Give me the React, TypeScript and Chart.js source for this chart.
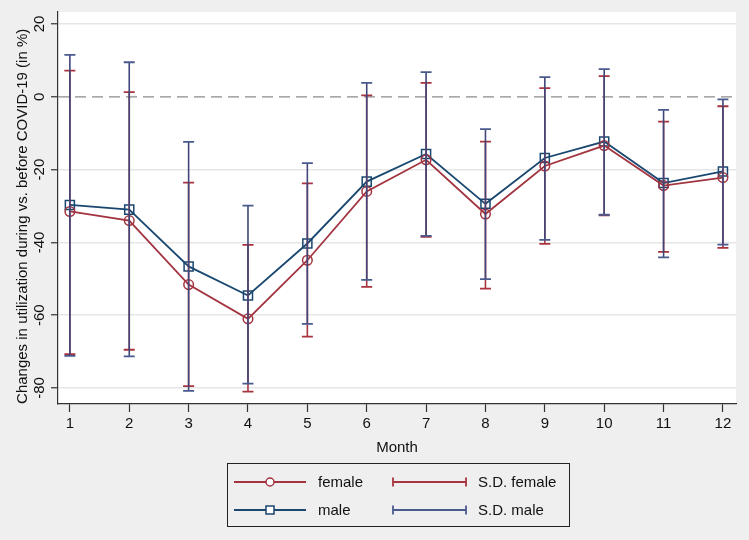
import React, { useEffect, useRef } from "react";
import { Chart, registerables } from "chart.js";

Chart.register(...registerables);

const months = [1, 2, 3, 4, 5, 6, 7, 8, 9, 10, 11, 12];
const female = [-31.5, -34.0, -51.6, -61.0, -44.9, -26.0, -17.3, -32.2, -19.0, -13.4, -24.4, -22.2];
const male = [-29.7, -31.0, -46.6, -54.6, -40.3, -23.3, -15.7, -29.4, -16.8, -12.3, -23.7, -20.5];
const femaleUpper = [7.2, 1.3, -23.6, -40.7, -23.8, 0.4, 3.8, -12.3, 2.4, 5.7, -6.8, -2.6];
const femaleLower = [-70.7, -69.5, -79.5, -81.0, -65.9, -52.2, -38.5, -52.7, -40.4, -32.6, -42.6, -41.5];
const maleUpper = [11.5, 9.5, -12.4, -29.9, -18.2, 3.8, 6.8, -8.9, 5.4, 7.6, -3.6, -0.7];
const maleLower = [-71.2, -71.3, -80.8, -78.8, -62.4, -50.3, -38.2, -50.1, -39.3, -32.4, -44.1, -40.6];
const yTicks = [-80, -60, -40, -20, 0, 20];
const legendLabels = ["female", "S.D. female", "male", "S.D. male"];

const FEMALE = "#a23440";
const MALE = "#1a476f";
const SD_FEMALE = "#a8343f";
const SD_MALE = "#4a5a8e";
const SD_MALE_V = "#3f4679";
const FONT = "'Liberation Sans', Arial, Helvetica, sans-serif";

const bgPlugin = {
  id: "bg",
  beforeDraw(chart: any) {
    const { ctx, chartArea } = chart;
    ctx.save();
    ctx.fillStyle = "#efefef";
    ctx.fillRect(0, 0, chart.width, chart.height);
    ctx.fillStyle = "#ffffff";
    ctx.fillRect(chartArea.left, chartArea.top, chartArea.right - chartArea.left, chartArea.bottom - chartArea.top);
    ctx.restore();
  },
  beforeDatasetsDraw(chart: any) {
    const { ctx, chartArea, scales } = chart;
    const y0 = scales.y.getPixelForValue(0);
    ctx.save();
    ctx.strokeStyle = "#8c8c8c";
    ctx.lineWidth = 1.3;
    ctx.setLineDash([11, 6]);
    ctx.beginPath();
    ctx.moveTo(chartArea.left, y0);
    ctx.lineTo(chartArea.right, y0);
    ctx.stroke();
    ctx.restore();
  },
};

const errorPlugin = {
  id: "errbars",
  afterDatasetsDraw(chart: any) {
    const { ctx, scales } = chart;
    const draw = (lo: number[], hi: number[], vcol: string, ccol: string) => {
      months.forEach((m, i) => {
        const x = scales.x.getPixelForValue(m);
        const yl = scales.y.getPixelForValue(lo[i]);
        const yh = scales.y.getPixelForValue(hi[i]);
        ctx.strokeStyle = vcol;
        ctx.lineWidth = 1.6;
        ctx.beginPath();
        ctx.moveTo(x, yl);
        ctx.lineTo(x, yh);
        ctx.stroke();
        ctx.strokeStyle = ccol;
        ctx.lineWidth = 1.8;
        ctx.beginPath();
        ctx.moveTo(x - 5.5, yl);
        ctx.lineTo(x + 5.5, yl);
        ctx.moveTo(x - 5.5, yh);
        ctx.lineTo(x + 5.5, yh);
        ctx.stroke();
      });
    };
    ctx.save();
    draw(femaleLower, femaleUpper, SD_FEMALE, SD_FEMALE);
    draw(maleLower, maleUpper, SD_MALE_V, SD_MALE);
    ctx.restore();
  },
};

const legendPlugin = {
  id: "customLegend",
  afterDraw(chart: any) {
    const { ctx } = chart;
    ctx.save();
    ctx.strokeStyle = "#222";
    ctx.lineWidth = 1;
    ctx.strokeRect(227.5, 463.5, 342, 63);
    const rows = [482, 510];
    ctx.font = `15px ${FONT}`;
    ctx.textBaseline = "middle";
    const lineSym = (y: number, col: string, shape: string) => {
      ctx.strokeStyle = col;
      ctx.lineWidth = 1.8;
      ctx.beginPath();
      ctx.moveTo(234, y);
      ctx.lineTo(306, y);
      ctx.stroke();
      ctx.fillStyle = "#fff";
      ctx.lineWidth = 1.5;
      ctx.beginPath();
      if (shape === "circle") ctx.arc(270, y, 4, 0, Math.PI * 2);
      else ctx.rect(266, y - 4, 8, 8);
      ctx.fill();
      ctx.stroke();
    };
    const sdSym = (y: number, col: string) => {
      ctx.strokeStyle = col;
      ctx.lineWidth = 1.8;
      ctx.beginPath();
      ctx.moveTo(393, y);
      ctx.lineTo(466, y);
      ctx.moveTo(393, y - 4.5);
      ctx.lineTo(393, y + 4.5);
      ctx.moveTo(466, y - 4.5);
      ctx.lineTo(466, y + 4.5);
      ctx.stroke();
    };
    lineSym(rows[0], FEMALE, "circle");
    sdSym(rows[0], SD_FEMALE);
    lineSym(rows[1], MALE, "rect");
    sdSym(rows[1], SD_MALE);
    ctx.fillStyle = "#111";
    ctx.textAlign = "left";
    ctx.fillText(legendLabels[0], 318, rows[0] + 1);
    ctx.fillText(legendLabels[1], 478, rows[0] + 1);
    ctx.fillText(legendLabels[2], 318, rows[1] + 1);
    ctx.fillText(legendLabels[3], 478, rows[1] + 1);
    ctx.restore();
  },
};

export default function App() {
  const ref = useRef<HTMLCanvasElement | null>(null);
  useEffect(() => {
    document.body.style.margin = "0";
    const canvas = ref.current;
    if (!canvas) return;
    const chart = new Chart(canvas, {
      type: "line",
      data: {
        datasets: [
          {
            label: "female",
            data: months.map((m, i) => ({ x: m, y: female[i] })),
            borderColor: FEMALE,
            backgroundColor: "#ffffff",
            borderWidth: 1.8,
            pointStyle: "circle",
            pointRadius: 4.8,
            pointBorderWidth: 1.5,
            pointBackgroundColor: "rgba(255,255,255,0)",
            pointBorderColor: FEMALE,
          },
          {
            label: "male",
            data: months.map((m, i) => ({ x: m, y: male[i] })),
            borderColor: MALE,
            backgroundColor: "#ffffff",
            borderWidth: 1.8,
            pointStyle: "rect",
            pointRadius: 6.4,
            pointBorderWidth: 1.5,
            pointBackgroundColor: "rgba(255,255,255,0)",
            pointBorderColor: MALE,
          },
        ],
      },
      options: {
        animation: false,
        responsive: false,
        devicePixelRatio: 1,
        layout: { padding: { top: 12, right: 13, bottom: 78, left: 0 } },
        plugins: { legend: { display: false }, tooltip: { enabled: false } },
        elements: { line: { tension: 0 } },
        scales: {
          x: {
            type: "linear",
            min: 0.8,
            max: 12.22,
            afterBuildTicks: (s: any) => {
              s.ticks = months.map((v) => ({ value: v }));
            },
            afterFit: (s: any) => {
              s.height = 58;
            },
            ticks: {
              font: { family: FONT, size: 15 },
              color: "#111",
              padding: 3,
              maxRotation: 0,
              callback: (v: any) => String(v),
            },
            grid: { drawOnChartArea: false, tickLength: 8, tickColor: "#333", tickWidth: 1.2 },
            border: { color: "#333", width: 1.2 },
            title: {
              display: true,
              text: "Month",
              font: { family: FONT, size: 15 },
              color: "#111",
              padding: { top: 0, bottom: 5 },
            },
          },
          y: {
            type: "linear",
            min: -84.4,
            max: 23.3,
            afterBuildTicks: (s: any) => {
              s.ticks = yTicks.map((v) => ({ value: v }));
            },
            afterFit: (s: any) => {
              s.width = 58;
            },
            ticks: {
              font: { family: FONT, size: 15 },
              color: "#111",
              padding: 0,
              minRotation: 90,
              maxRotation: 90,
              crossAlign: "center",
              callback: (v: any) => String(v),
            },
            grid: {
              color: (c: any) => (c.tick && c.tick.value === 0 ? "rgba(0,0,0,0)" : "#e6e6e6"),
              lineWidth: 1.5,
              tickLength: 7,
              tickColor: "#333",
              tickWidth: 1.2,
            },
            border: { color: "#333", width: 1.2 },
            title: {
              display: true,
              text: "Changes in utilization during vs. before COVID-19 (in %)    ",
              font: { family: FONT, size: 15 },
              color: "#111",
              padding: { top: 14, bottom: 0 },
            },
          },
        },
      },
      plugins: [bgPlugin, errorPlugin, legendPlugin],
    } as any);
    return () => chart.destroy();
  }, []);
  return (
    <div style={{ width: 749, height: 540 }}>
      <canvas ref={ref} width={749} height={540} style={{ display: "block" }} />
    </div>
  );
}
